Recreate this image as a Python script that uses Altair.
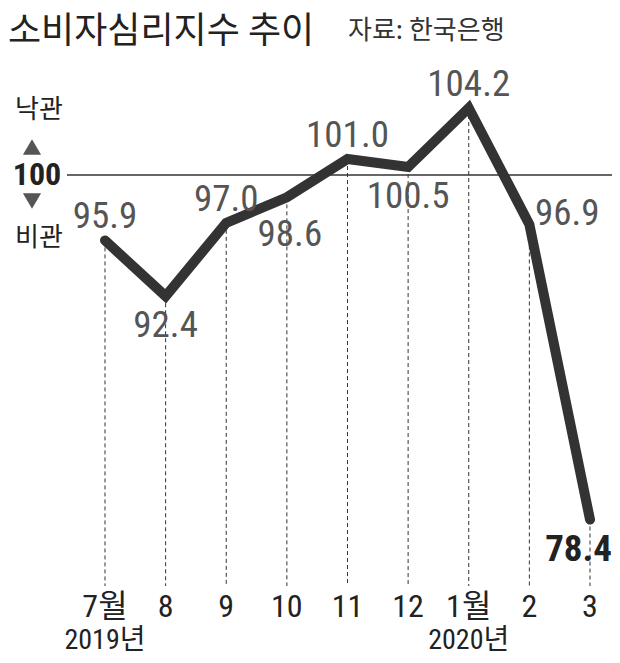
import altair as alt
import pandas as pd

# ---- data ----
months = ["7월", "8", "9", "10", "11", "12", "1월", "2", "3"]
years = ["2019년", "", "", "", "", "", "2020년", "", ""]
values = [95.9, 92.4, 97.0, 98.6, 101.0, 100.5, 104.2, 96.9, 78.4]
value_labels = ["95.9", "92.4", "97.0", "98.6", "101.0", "100.5", "104.2", "96.9", "78.4"]
title_text = "소비자심리지수 추이"
source_text = "자료: 한국은행"
upper_text = "낙관"
lower_text = "비관"
ref_value = 100
ref_label = "100"

df = pd.DataFrame({
    "i": list(range(len(months))),
    "month": months,
    "year": years,
    "value": values,
    "label": value_labels,
})
ref_df = pd.DataFrame({"value": [ref_value], "t": [ref_label]})

W, H = 604, 647
NARROW = "Roboto Condensed, DejaVu Sans Condensed, Noto Sans CJK KR, sans-serif"
KR = "Noto Sans CJK KR, sans-serif"

xs = alt.Scale(domain=[-1.6, 8.363], nice=False, zero=False)
ys = alt.Scale(domain=[69.91, 110.47], nice=False, zero=False)
X = alt.X("i:Q", scale=xs, axis=None)
Y = alt.Y("value:Q", scale=ys, axis=None)

base = alt.Chart(df)

def one(text):
    return alt.Chart(pd.DataFrame({"t": [text]}))

dashes = base.mark_rule(color="#333", strokeWidth=1, strokeDash=[4, 3]).encode(
    x=X, y=Y, y2=alt.value(578)
)

refline = alt.Chart(ref_df).mark_rule(color="#333", strokeWidth=1.3).encode(
    x=alt.value(59), x2=alt.value(W), y=Y
)

line = base.mark_line(color="#333", strokeWidth=10, strokeCap="round", strokeJoin="miter").encode(
    x=X, y=Y, order="i:Q"
)

lab_style = dict(font=NARROW, fontSize=37, color="#555", baseline="middle", align="center")

above = base.transform_filter(
    alt.FieldOneOfPredicate(field="month", oneOf=["7월", "9", "11", "1월"])
).mark_text(dy=-23, **lab_style).encode(x=X, y=Y, text="label:N")

below = base.transform_filter(
    alt.FieldOneOfPredicate(field="month", oneOf=["8", "12"])
).mark_text(dy=30, **lab_style).encode(x=X, y=Y, text="label:N")

below_far = base.transform_filter(
    alt.FieldOneOfPredicate(field="month", oneOf=["10"])
).mark_text(dy=38, dx=3, **lab_style).encode(x=X, y=Y, text="label:N")

right = base.transform_filter(
    alt.FieldOneOfPredicate(field="month", oneOf=["2"])
).mark_text(dy=-10, dx=38, **lab_style).encode(x=X, y=Y, text="label:N")

last = base.transform_filter(
    alt.FieldOneOfPredicate(field="month", oneOf=["3"])
).mark_text(dy=30, dx=22, font=NARROW, fontSize=37, fontWeight="bold", color="#222",
            baseline="middle", align="right").encode(x=X, y=Y, text="label:N")

month_text = base.mark_text(font=NARROW, fontSize=32, color="#222", baseline="middle", align="center").encode(
    x=X, y=alt.value(599), text="month:N"
)
year_text = base.transform_filter(alt.datum.year != "").mark_text(
    font=NARROW, fontSize=28, color="#222", baseline="middle", align="center"
).encode(x=X, y=alt.value(633), text="year:N")

title = one(title_text).mark_text(font=KR, fontSize=36, color="#222", align="left", baseline="middle").encode(
    x=alt.value(0), y=alt.value(24), text="t:N"
)
source = one(source_text).mark_text(font=KR, fontSize=26, color="#333", align="left", baseline="middle").encode(
    x=alt.value(340), y=alt.value(23), text="t:N"
)
up_lab = one(upper_text).mark_text(font=KR, fontSize=26, color="#222", align="center", baseline="middle").encode(
    x=alt.value(31), y=alt.value(102), text="t:N"
)
low_lab = one(lower_text).mark_text(font=KR, fontSize=26, color="#222", align="center", baseline="middle").encode(
    x=alt.value(31), y=alt.value(230), text="t:N"
)
ref_lab = alt.Chart(ref_df).mark_text(font=NARROW, fontSize=32, fontWeight="bold", color="#222",
                                      align="center", baseline="middle").encode(
    x=alt.value(29), y=Y, text="t:N"
)
tri_up = one("up").mark_point(shape="triangle-up", filled=True, size=330, color="#555", opacity=1).encode(
    x=alt.value(24), y=alt.value(139)
)
tri_down = one("down").mark_point(shape="triangle-down", filled=True, size=330, color="#555", opacity=1).encode(
    x=alt.value(24), y=alt.value(193)
)

chart = alt.layer(
    dashes, refline, line, above, below, below_far, right, last,
    month_text, year_text, title, source, up_lab, low_lab, ref_lab, tri_up, tri_down
).properties(
    width=W, height=H, padding=0, autosize=alt.AutoSizeParams(type="none"), background="white"
).configure_view(stroke=None)

chart.save("out.html", embed_options={"renderer": "svg", "actions": False})
